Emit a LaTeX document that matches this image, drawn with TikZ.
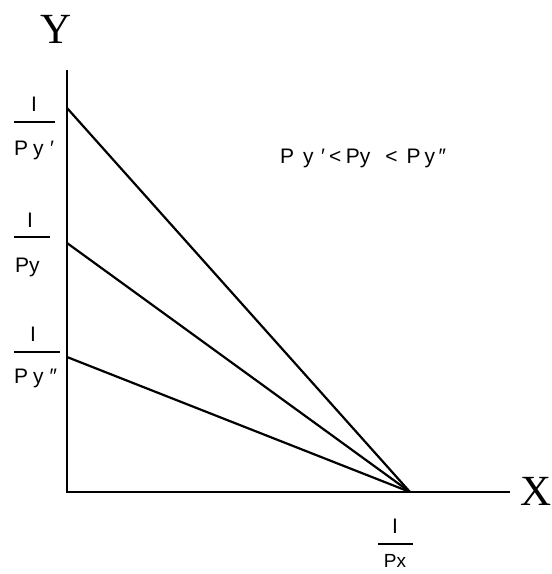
\documentclass[tikz,border=0pt]{standalone}
\usepackage{fontspec}
\setmainfont{Liberation Sans}
\newfontfamily\serifbig{Liberation Serif}
\begin{document}
\begin{tikzpicture}[x=1pt,y=-1pt,
  lbl/.style={inner sep=0pt,font=\fontsize{21}{25}\selectfont},
  axlbl/.style={inner sep=0pt,font=\serifbig\fontsize{43}{48}\selectfont},
  ln/.style={line width=2.2pt},
  bar/.style={line width=2.2pt}]
\useasboundingbox (0,0) rectangle (552,574);
\coordinate (O) at (67,492);
\coordinate (Ytop) at (67,70);
\coordinate (Xend) at (510,492);
\coordinate (A) at (67,108);
\coordinate (B) at (67,243);
\coordinate (C) at (67,357);
\coordinate (P) at (410,492);
\draw[ln] (Ytop) -- (O) -- (Xend);
\draw[ln] (A) -- (P);
\draw[ln] (B) -- (P);
\draw[ln] (C) -- (P);
\node[axlbl] (Y) at (56,29) {Y};
\node[axlbl] (X) at (536,491) {X};
% Py'
\node[lbl] (n1) at (34,104) {I};
\coordinate (b1l) at (14,122); \coordinate (b1r) at (55,122);
\draw[bar] (b1l) -- (b1r);
\node[lbl,anchor=west] (d1) at (14,150) {P\hspace{5pt}y\hspace{6.5pt}′};
% Py
\node[lbl] (n2) at (30,220) {I};
\coordinate (b2l) at (14,237); \coordinate (b2r) at (50,237);
\draw[bar] (b2l) -- (b2r);
\node[lbl,anchor=west] (d2) at (15,267) {Py};
% Py''
\node[lbl] (n3) at (33,334) {I};
\coordinate (b3l) at (14,352); \coordinate (b3r) at (60,352);
\draw[bar] (b3l) -- (b3r);
\node[lbl,anchor=west] (d3) at (14,378) {P\hspace{5pt}y\hspace{6pt}″};
% Px
\node[lbl] (n4) at (395,526) {I};
\coordinate (b4l) at (378,544); \coordinate (b4r) at (413,544);
\draw[bar] (b4l) -- (b4r);
\node[lbl] (d4) at (395,561) {\fontsize{19}{22}\selectfont Px};
% inequality
\node[lbl,anchor=west] (ineq) at (280,158) {P\hspace{9pt}y\hspace{7.5pt}′\hspace{4pt}<\hspace{4.5pt}Py\hspace{15pt}<\hspace{9pt}P\hspace{4pt}y\hspace{3.5pt}″};
\end{tikzpicture}
\end{document}
